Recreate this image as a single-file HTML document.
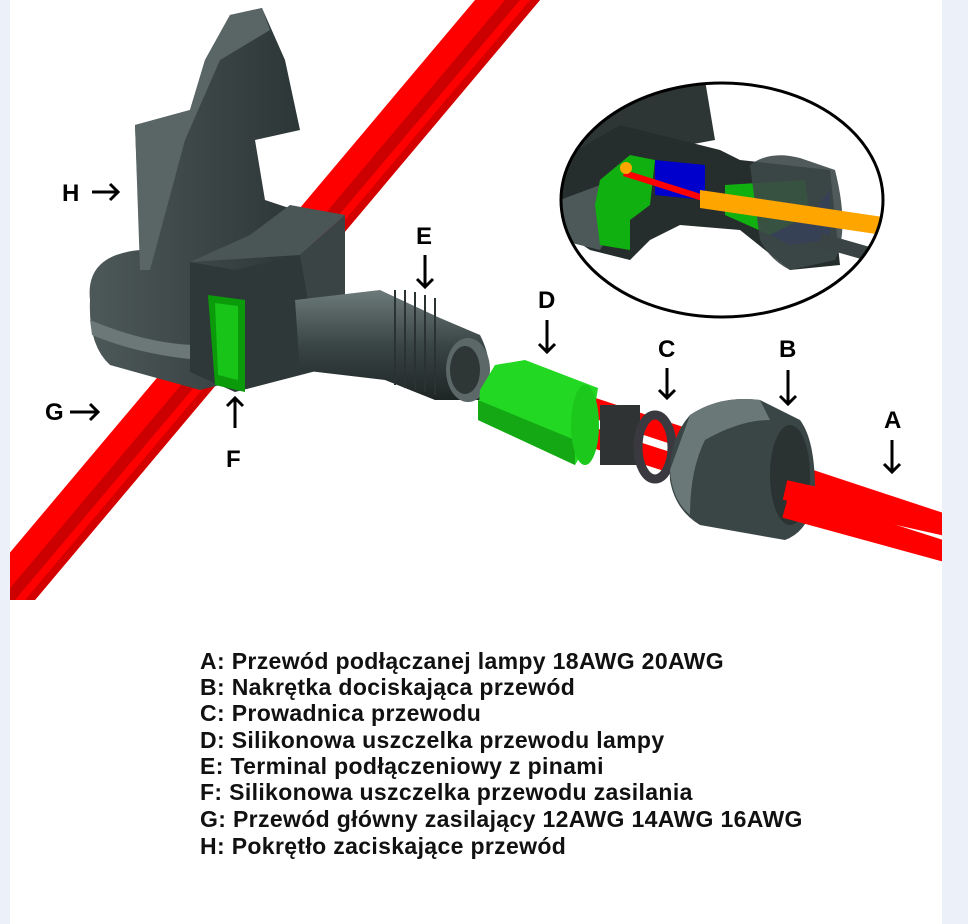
<!DOCTYPE html>
<html><head><meta charset="utf-8"><style>
html,body{margin:0;padding:0;background:#ebf0f9;}
#w{position:relative;width:968px;height:924px;overflow:hidden;background:#ebf0f9;}
#c{position:absolute;left:10px;top:0;width:932px;height:924px;background:#fff;}
svg{position:absolute;left:0;top:0;}
.t{position:absolute;left:200px;font:bold 23px "Liberation Sans",Arial,sans-serif;letter-spacing:0.35px;color:#111;white-space:nowrap;line-height:26px;}
</style></head><body><div id="w"><div id="c"></div>
<svg width="968" height="924" viewBox="0 0 968 924">
<defs>
<clipPath id="cl"><rect x="10" y="0" width="932" height="600"/></clipPath>
<clipPath id="el"><ellipse cx="722" cy="200" rx="161" ry="117"/></clipPath>
<linearGradient id="gk" x1="0" y1="0" x2="1" y2="0"><stop offset="0" stop-color="#4d5858"/><stop offset="1" stop-color="#2a3333"/></linearGradient>
<linearGradient id="gc" x1="0" y1="0" x2="0" y2="1"><stop offset="0" stop-color="#6d7a7a"/><stop offset=".5" stop-color="#3a4545"/><stop offset="1" stop-color="#1e2525"/></linearGradient>
</defs>
<g clip-path="url(#cl)">
 <polygon points="475,0 540,0 35,600 -30,600" fill="#ff0000"/>
 <polygon points="505,0 520,0 15,600 0,600" fill="#cc0000"/>
 <polygon points="530,0 540,0 35,600 25,600" fill="#d40000"/>
 <line x1="585" y1="405" x2="960" y2="529" stroke="#ff0000" stroke-width="20"/>
 <line x1="585" y1="435" x2="960" y2="556" stroke="#ff0000" stroke-width="20"/>
</g>
<!-- knob H -->
<path d="M90,300 Q85,255 140,250 L135,125 L190,110 L205,60 L230,15 L262,8 L285,60 L300,130 L255,140 L265,200 L310,215 L320,360 L200,390 L110,365 Q88,345 90,300Z" fill="url(#gk)"/>
<path d="M135,125 L190,110 L205,60 L230,15 L262,8 L270,30 L220,60 L185,140 L150,270 L140,270Z" fill="#5a6666"/>
<path d="M90,320 Q150,345 200,345 L200,360 Q140,355 92,335Z" fill="#6c7878"/>
<!-- front block -->
<polygon points="190,262 235,270 300,255 318,260 320,370 235,392 190,372" fill="#2f3838"/>
<polygon points="190,262 300,255 345,215 290,205 250,235" fill="#4a5555"/>
<polygon points="300,255 345,215 345,300 320,370" fill="#3a4444"/>
<polygon points="208,295 245,300 245,392 215,385" fill="#0a9a0a"/>
<polygon points="215,303 238,306 238,380 218,375" fill="#19c419"/>
<!-- E cylinder -->
<path d="M295,300 L380,290 L440,318 L480,335 Q498,370 480,400 L435,400 L385,380 L300,370Z" fill="url(#gc)"/>
<g stroke="#2a3232" stroke-width="2"><line x1="395" y1="290" x2="395" y2="385"/><line x1="405" y1="290" x2="405" y2="388"/><line x1="415" y1="292" x2="415" y2="390"/><line x1="425" y1="295" x2="425" y2="392"/><line x1="435" y1="298" x2="435" y2="395"/></g>
<ellipse cx="468" cy="370" rx="22" ry="32" fill="#5c6767"/>
<ellipse cx="465" cy="370" rx="15" ry="24" fill="#2e3636"/>
<!-- D -->
<polygon points="495,365 480,390 478,420 575,465 590,440 598,388 525,360" fill="#22d822"/>
<polygon points="478,400 575,440 575,465 478,420" fill="#14a814"/>
<ellipse cx="585" cy="425" rx="14" ry="40" fill="#1cc81c"/>
<!-- C -->
<rect x="600" y="405" width="40" height="60" fill="#2f3333"/>
<ellipse cx="655" cy="447" rx="17" ry="32" fill="none" stroke="#3a393f" stroke-width="9"/>
<!-- B nut -->
<path d="M690,415 Q720,395 760,400 L800,420 Q815,440 815,490 Q812,530 785,540 L700,525 Q675,510 670,480 Q668,440 690,415Z" fill="#3a4545"/>
<path d="M690,415 Q720,395 760,400 L770,420 Q740,420 705,440 Q690,470 690,515 Q672,500 670,470Z" fill="#6a7878"/>
<ellipse cx="790" cy="475" rx="20" ry="50" fill="#2a3232"/>
<g clip-path="url(#cl)">
 <line x1="785" y1="490" x2="960" y2="529" stroke="#ff0000" stroke-width="20"/>
 <line x1="785" y1="508" x2="960" y2="556" stroke="#ff0000" stroke-width="20"/>
</g>
<!-- inset -->
<ellipse cx="722" cy="200" rx="161" ry="117" fill="#fff"/>
<g clip-path="url(#el)">
 <polygon points="560,80 705,80 715,140 688,145 660,160 560,160" fill="#2d3535"/>
 <polygon points="560,160 620,125 720,150 740,160 830,170 840,265 790,270 740,230 680,225 650,240 630,260 590,250 560,230" fill="#262d2d"/>
 <polygon points="560,200 600,185 620,215 600,250 560,240" fill="#4d5858"/>
 <polygon points="600,180 630,155 655,160 650,205 630,220 630,250 600,245 595,205" fill="#10b010"/>
 <polygon points="655,160 705,165 705,200 655,195" fill="#0000cc"/>
 <polygon points="725,185 805,180 810,215 770,235 725,215" fill="#10b010"/>
 <polygon points="770,235 810,215 830,190 830,240 790,245" fill="#0000cc"/>
 <polygon points="625,170 720,200 718,206 623,176" fill="#ff0000"/>
 <circle cx="626" cy="168" r="6" fill="#ffa500"/>
 <path d="M750,165 Q770,150 800,158 L835,170 Q850,230 835,260 L790,270 Q770,260 760,240Z" fill="#3d4848" opacity=".9"/>
 <polygon points="700,190 890,218 890,236 700,208" fill="#ffa500"/>
 <line x1="820" y1="240" x2="890" y2="260" stroke="#3a4444" stroke-width="14"/>
</g>
<ellipse cx="722" cy="200" rx="161" ry="117" fill="none" stroke="#000" stroke-width="3"/>
<!-- labels -->
<g font-family="Liberation Sans,Arial,sans-serif" font-weight="bold" font-size="24" fill="#000">
 <text x="62" y="201">H</text><text x="45" y="420">G</text>
 <text x="226" y="467">F</text><text x="416" y="244">E</text>
 <text x="538" y="308">D</text><text x="658" y="357">C</text>
 <text x="779" y="357">B</text><text x="884" y="428">A</text>
</g>
<g stroke="#000" stroke-width="3" fill="none">
 <path d="M92,192 H118 M110,184 L118,192 L110,200"/>
 <path d="M70,412 H98 M90,404 L98,412 L90,420"/>
 <path d="M235,428 V398 M227,406 L235,398 L243,406"/>
 <path d="M425,255 V287 M417,279 L425,287 L433,279"/>
 <path d="M547,320 V352 M539,344 L547,352 L555,344"/>
 <path d="M667,368 V398 M659,390 L667,398 L675,390"/>
 <path d="M788,370 V404 M780,396 L788,404 L796,396"/>
 <path d="M892,440 V472 M884,464 L892,472 L900,464"/>
</g>
</svg>
<div class="t" style="top:648px">A: Przewód podłączanej lampy 18AWG 20AWG</div>
<div class="t" style="top:674px">B: Nakrętka dociskająca przewód</div>
<div class="t" style="top:700px">C: Prowadnica przewodu</div>
<div class="t" style="top:727px">D: Silikonowa uszczelka przewodu lampy</div>
<div class="t" style="top:753px">E: Terminal podłączeniowy z pinami</div>
<div class="t" style="top:779px">F: Silikonowa uszczelka przewodu zasilania</div>
<div class="t" style="top:806px">G: Przewód główny zasilający 12AWG 14AWG 16AWG</div>
<div class="t" style="top:833px">H: Pokrętło zaciskające przewód</div>
</div></body></html>
